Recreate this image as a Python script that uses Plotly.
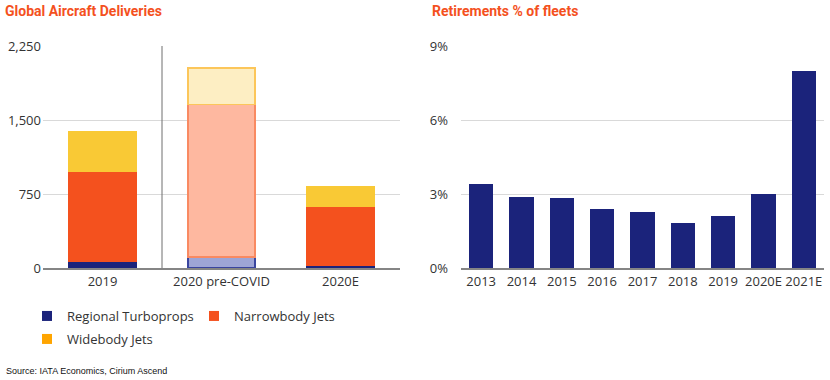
import plotly.graph_objects as go

# ---- Data ----
delivery_categories = ["2019", "2020 pre-COVID", "2020E"]
regional_turboprops = [67, 114, 26]
narrowbody_jets = [918, 1541, 596]
widebody_jets = [401, 370, 198]

retirement_years = ["2013", "2014", "2015", "2016", "2017", "2018", "2019", "2020E", "2021E"]
retirement_pct = [3.41, 2.87, 2.85, 2.41, 2.27, 1.82, 2.12, 2.98, 7.99]

left_ticks = [0, 750, 1500, 2250]
left_tick_labels = ["0", "750", "1,500", "2,250"]
right_ticks = [0, 3, 6, 9]
right_tick_labels = ["0%", "3%", "6%", "9%"]

# ---- Styles ----
NAVY = "#1b237b"
ORANGE = "#f4511e"
YELLOW = "#f9c935"
TXT = "#333333"
FONT = "Open Sans"
W, H = 830, 380

fig = go.Figure()

turbo_fill = [NAVY, "#9ea5d6", NAVY]
turbo_line = [NAVY, "#3a459f", NAVY]
narrow_fill = [ORANGE, "#feb8a0", ORANGE]
narrow_line = [ORANGE, "#f98a62", ORANGE]
wide_fill = [YELLOW, "#fdeec3", YELLOW]
wide_line = [YELLOW, "#fcc65a", YELLOW]

for name, vals, fill, line in [
    ("Regional Turboprops", regional_turboprops, turbo_fill, turbo_line),
    ("Narrowbody Jets", narrowbody_jets, narrow_fill, narrow_line),
    ("Widebody Jets", widebody_jets, wide_fill, wide_line),
]:
    fig.add_trace(go.Bar(
        x=delivery_categories, y=vals, name=name, width=0.56,
        marker=dict(color=fill, line=dict(color=line, width=1.5)),
        showlegend=False, xaxis="x", yaxis="y",
    ))

# legend entries
legend_items = [
    ("Regional Turboprops", NAVY, "legend"),
    ("Narrowbody Jets", ORANGE, "legend"),
    ("Widebody Jets", "#ffa500", "legend2"),
]
for name, color, lg in legend_items:
    fig.add_trace(go.Scatter(
        x=[None], y=[None], mode="markers", name=name,
        marker=dict(symbol="square", size=10, color=color),
        legend=lg, xaxis="x", yaxis="y",
    ))

fig.add_trace(go.Bar(
    x=retirement_years, y=retirement_pct, width=0.61,
    marker=dict(color=NAVY, line=dict(width=0)),
    showlegend=False, xaxis="x2", yaxis="y2",
))

def py(px):
    return 1 - px / H

ydom = [py(268), py(46)]

fig.update_layout(
    width=W, height=H,
    margin=dict(l=0, r=0, t=0, b=0, autoexpand=False),
    paper_bgcolor="white", plot_bgcolor="white",
    barmode="stack",
    font=dict(family=FONT, size=13, color=TXT),
    xaxis=dict(domain=[43 / W, 400 / W], anchor="y", showgrid=False, automargin=False,
               showline=True, linecolor="#858585", linewidth=2, layer="above traces",
               ticks="", tickfont=dict(size=13, color=TXT), range=[-0.5, 2.5]),
    yaxis=dict(domain=ydom, anchor="x", range=[0, 2250], tickvals=left_ticks,
               ticktext=left_tick_labels, automargin=False,
               showgrid=True, gridcolor="#d9d9d9", gridwidth=1,
               zeroline=False, showline=False, ticks="", ticklabelstandoff=1,
               tickfont=dict(size=13, color=TXT)),
    xaxis2=dict(domain=[461 / W, 824 / W], anchor="y2", showgrid=False, automargin=False,
                showline=True, linecolor="#858585", linewidth=2, layer="above traces",
                ticks="", tickfont=dict(size=13, color=TXT), range=[-0.5, 8.5]),
    yaxis2=dict(domain=ydom, anchor="x2", range=[0, 9], tickvals=right_ticks,
                ticktext=right_tick_labels, automargin=False,
                showgrid=True, gridcolor="#d9d9d9", gridwidth=1,
                zeroline=False, showline=False, ticks="", ticklabelstandoff=12,
                tickfont=dict(size=13, color=TXT)),
    legend=dict(orientation="h", x=27 / W, xanchor="left", y=py(316), yanchor="middle",
                font=dict(size=13, color=TXT), bgcolor="rgba(0,0,0,0)",
                traceorder="normal", entrywidth=122, itemwidth=30),
    legend2=dict(orientation="h", x=27 / W, xanchor="left", y=py(339), yanchor="middle",
                 font=dict(size=13, color=TXT), bgcolor="rgba(0,0,0,0)",
                 traceorder="normal", itemwidth=30),
    shapes=[dict(type="line", xref="x", yref="y", x0=0.5, x1=0.5, y0=0, y1=2250,
                 line=dict(color="#6e6e6e", width=1))],
    annotations=[
        dict(text="<b>Global Aircraft Deliveries</b>", xref="paper", yref="paper",
             x=3 / W, y=py(11), xanchor="left", yanchor="middle", showarrow=False,
             font=dict(family="Roboto", size=14, color=ORANGE)),
        dict(text="<b>Retirements % of fleets</b>", xref="paper", yref="paper",
             x=430 / W, y=py(11), xanchor="left", yanchor="middle", showarrow=False,
             font=dict(family="Roboto", size=14, color=ORANGE)),
        dict(text="Source: IATA Economics, Cirium Ascend", xref="paper", yref="paper",
             x=4 / W, y=py(371), xanchor="left", yanchor="middle", showarrow=False,
             font=dict(family="Liberation Sans Narrow, Liberation Sans", size=9, color="#111111")),
    ],
)

fig.write_html(
    "out.html",
    config={"displayModeBar": False},
    post_script="document.body.style.margin='0';document.body.style.padding='0';",
)
